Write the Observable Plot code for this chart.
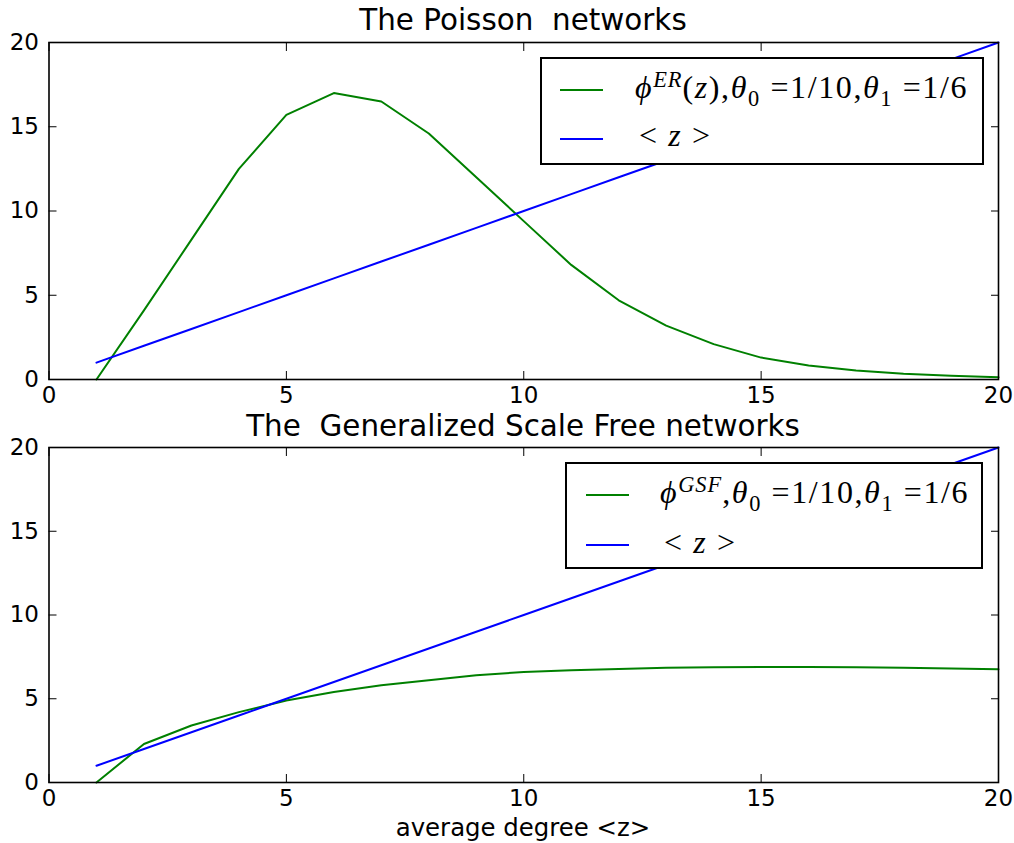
<!DOCTYPE html>
<html><head><meta charset="utf-8">
<script src="https://cdn.jsdelivr.net/npm/d3@7"></script>
<script src="https://cdn.jsdelivr.net/npm/@observablehq/plot@0.6"></script>
<style>
body{margin:0;background:#fff;}
#fig{position:relative;width:1014px;height:843px;font-family:"DejaVu Sans",sans-serif;overflow:hidden;background:#fff}
.title{position:absolute;left:48px;width:950px;text-align:center;font-size:29.4px;line-height:22px;color:#000;white-space:pre}
.xlabel{position:absolute;left:48px;width:950px;text-align:center;font-size:24.4px;line-height:28px;color:#000}
.plot{position:absolute;left:0}
.legend{position:absolute;border:2px solid #000;background:#fff;box-sizing:border-box;font-family:"Liberation Serif","DejaVu Serif",serif;color:#000}
.sw{position:absolute;height:2px}
.lt{position:absolute;font-size:32px;line-height:36px;white-space:pre;letter-spacing:1.6px}
.lt i{font-style:italic}
.sup{font-size:0.7em;position:relative;top:-11px;font-style:italic;letter-spacing:1px}
.sub{font-size:0.7em;position:relative;top:7.5px}
</style></head>
<body>
<div id="fig">
  <div class="title" style="top:9px">The Poisson  networks</div>
  <div class="title" style="top:415px">The  Generalized Scale Free networks</div>
  <div class="xlabel" style="top:814px">average degree &lt;z&gt;</div>
</div>
<script>
// ---- data ----
const zValues = [1,2,3,4,5,6,7,8,9,10,11,12,13,14,15,16,17,18,19,20];
const meanZ   = [1,2,3,4,5,6,7,8,9,10,11,12,13,14,15,16,17,18,19,20];
const phiER   = [0,4.1,8.3,12.5,15.7,17.0,16.5,14.6,12.0,9.4,6.8,4.7,3.2,2.1,1.3,0.83,0.53,0.34,0.22,0.14];
const phiGSF  = [0,2.3,3.4,4.2,4.9,5.4,5.8,6.1,6.4,6.6,6.7,6.78,6.85,6.88,6.9,6.9,6.88,6.85,6.8,6.76];
const xTicks  = [0,5,10,15,20];
const yTicks  = [0,5,10,15,20];

const green = "#008000", blue = "#0000ff";
const fig = document.getElementById("fig");

function panel(series, top, mTop, areaH, mBottom) {
  const rows = zValues.map((z, i) => ({z, v: series[i], m: meanZ[i]}));
  const tickFont = 23;
  const svg = Plot.plot({
    width: 1014,
    height: mTop + areaH + mBottom,
    marginLeft: 48.5, marginRight: 16, marginTop: mTop, marginBottom: mBottom,
    style: {fontFamily: "DejaVu Sans, sans-serif", fontSize: tickFont + "px", background: "transparent", color: "#000", overflow: "visible"},
    x: {domain: [0, 20], nice: false},
    y: {domain: [0, 20], nice: false},
    marks: [
      Plot.line(rows, {x: "z", y: "v", stroke: green, strokeWidth: 2}),
      Plot.line(rows, {x: "z", y: "m", stroke: blue, strokeWidth: 2}),
      // inward ticks on all four sides
      Plot.axisX({anchor: "bottom", ticks: xTicks, tickSize: 8, dy: -8, tickFormat: () => "", label: null}),
      Plot.axisX({anchor: "top", ticks: xTicks, tickSize: 8, dy: 8, tickFormat: () => "", label: null}),
      Plot.axisY({anchor: "left", ticks: yTicks, tickSize: 8, dx: 8, tickFormat: () => "", label: null}),
      Plot.axisY({anchor: "right", ticks: yTicks, tickSize: 8, dx: -8, tickFormat: () => "", label: null}),
      // tick labels
      Plot.axisX({anchor: "bottom", ticks: xTicks, tickSize: 0, tickPadding: 7, label: null, fontSize: tickFont}),
      Plot.axisY({anchor: "left", ticks: yTicks, tickSize: 0, tickPadding: 10, label: null, fontSize: tickFont}),
      Plot.frame({stroke: "#000", strokeWidth: 1.6})
    ]
  });
  svg.classList.add("plot");
  svg.style.top = top + "px";
  fig.appendChild(svg);
}

panel(phiER, 0, 42, 337, 34);      // frame y 42..379, svg ends at 413
panel(phiGSF, 413, 34, 335, 34);   // frame y 447..782

function legend(box, swLeft, txtLeft, line1Html, lineTops, swTops) {
  const d = document.createElement("div");
  d.className = "legend";
  Object.assign(d.style, {left: box[0] + "px", top: box[1] + "px", width: box[2] + "px", height: box[3] + "px"});
  const sw1 = document.createElement("div"); sw1.className = "sw";
  Object.assign(sw1.style, {left: swLeft + "px", width: "43px", top: swTops[0] + "px", background: green});
  const sw2 = document.createElement("div"); sw2.className = "sw";
  Object.assign(sw2.style, {left: swLeft + "px", width: "43px", top: swTops[1] + "px", background: blue});
  const t1 = document.createElement("div"); t1.className = "lt";
  t1.style.left = txtLeft + "px"; t1.style.top = lineTops[0] + "px";
  t1.innerHTML = line1Html;
  const t2 = document.createElement("div"); t2.className = "lt";
  t2.style.left = (txtLeft + 4) + "px"; t2.style.top = lineTops[1] + "px";
  t2.innerHTML = "&lt; <i>z</i> &gt;";
  d.append(sw1, sw2, t1, t2);
  fig.appendChild(d);
}

legend([540, 57, 444, 108], 18, 93,
  '<i>ϕ</i><span class="sup">ER</span>(<i>z</i>),<i>θ</i><span class="sub">0</span> =1/10,<i>θ</i><span class="sub">1</span> =1/6',
  [10, 58], [30, 79]);
legend([565, 462, 418, 107], 19, 93,
  '<i>ϕ</i><span class="sup">GSF</span>,<i>θ</i><span class="sub">0</span> =1/10,<i>θ</i><span class="sub">1</span> =1/6',
  [10, 60], [29.5, 79.5]);
</script>
</body></html>
